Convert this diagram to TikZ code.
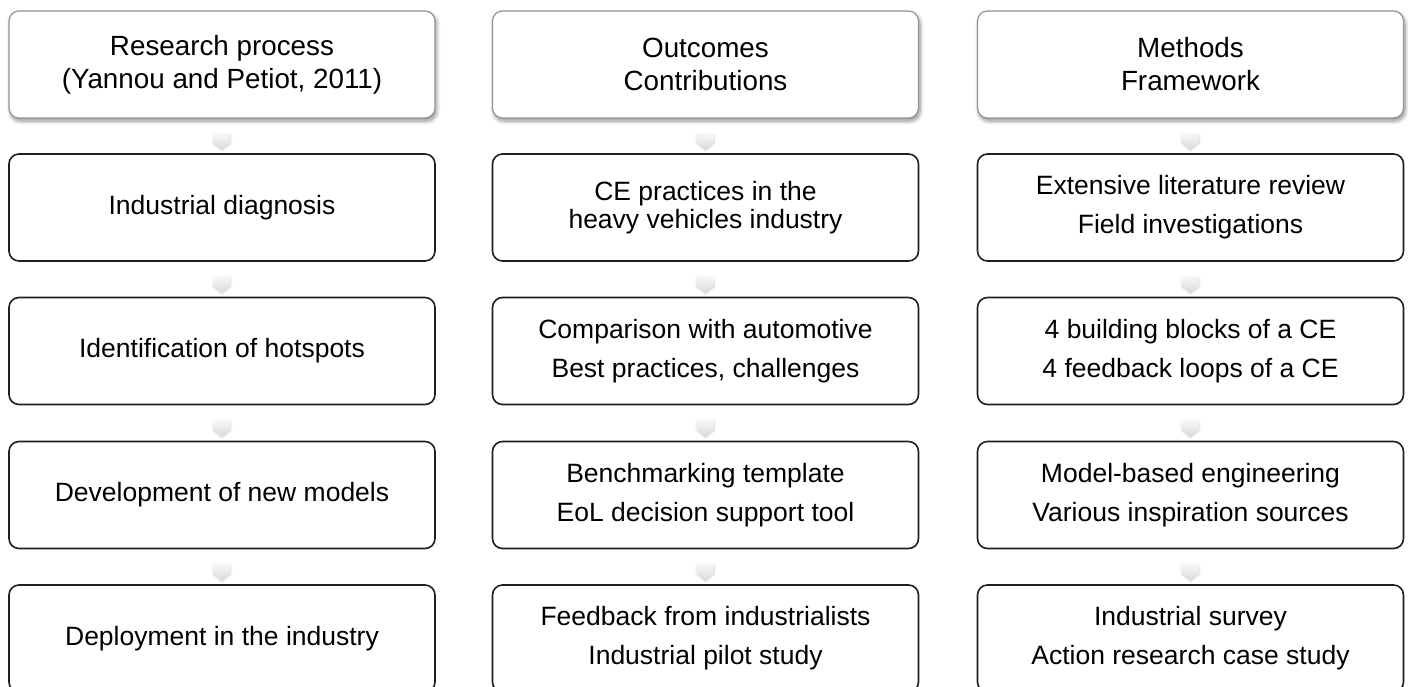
\documentclass[tikz,border=0pt]{standalone}
\usepackage{fontspec}
\setmainfont{Liberation Sans}
\usetikzlibrary{shapes.arrows,shadows.blur}
\begin{document}
\begin{tikzpicture}[x=1pt,y=-1pt,
  box/.style={draw=black!88, line width=1.6pt, rounded corners=10pt, fill=white,
    minimum width=426pt, minimum height=107pt, align=center, inner sep=0pt,
    font=\fontsize{26.5}{39}\selectfont},
  tight/.style={font=\fontsize{26.5}{28}\selectfont},
  head/.style={box, draw=black!42, line width=1.2pt, font=\fontsize{27.8}{33}\selectfont,
    blur shadow={shadow xshift=1.5pt, shadow yshift=-3pt, shadow blur steps=8,
      shadow blur radius=4pt, shadow opacity=45}},
  chev/.style={single arrow, single arrow head extend=0pt, single arrow tip angle=100,
    shape border rotate=270, minimum height=16pt, minimum width=17pt, inner sep=0pt,
    draw=none, top color=gray!6, bottom color=gray!30, yshift=-2pt,
    blur shadow={shadow xshift=0pt, shadow yshift=-1pt, shadow blur steps=5,
      shadow blur radius=2pt, shadow opacity=20}}]
\useasboundingbox (0,0) rectangle (1408,686);
\clip (0,0) rectangle (1408,686);
% headers
\node[head] (h1) at (222,64.5) {Research process\\(Yannou and Petiot, 2011)};
\node[head] (h2) at (705.5,64.5) {Outcomes\\Contributions};
\node[head] (h3) at (1190.5,64.5) {Methods\\Framework};
% column 1
\node[box] (a1) at (222,207.5) {Industrial diagnosis};
\node[box] (a2) at (222,351) {Identification of hotspots};
\node[box] (a3) at (222,495) {Development of new models};
\node[box] (a4) at (222,638.5) {Deployment in the industry};
% column 2
\node[box,tight] (b1) at (705.5,207.5) {CE practices in the\\heavy vehicles industry};
\node[box] (b2) at (705.5,351) {Comparison with automotive\\Best practices, challenges};
\node[box] (b3) at (705.5,495) {Benchmarking template\\EoL decision support tool};
\node[box] (b4) at (705.5,638.5) {Feedback from industrialists\\Industrial pilot study};
% column 3
\node[box] (c1) at (1190.5,207.5) {Extensive literature review\\Field investigations};
\node[box] (c2) at (1190.5,351) {4 building blocks of a CE\\4 feedback loops of a CE};
\node[box] (c3) at (1190.5,495) {Model-based engineering\\Various inspiration sources};
\node[box] (c4) at (1190.5,638.5) {Industrial survey\\Action research case study};
% chevrons
\foreach \u/\v in {h1/a1,a1/a2,a2/a3,a3/a4,h2/b1,b1/b2,b2/b3,b3/b4,h3/c1,c1/c2,c2/c3,c3/c4}{
  \path (\u.south) -- (\v.north) node[midway,chev] (ch-\u) {};
}
\end{tikzpicture}
\end{document}
